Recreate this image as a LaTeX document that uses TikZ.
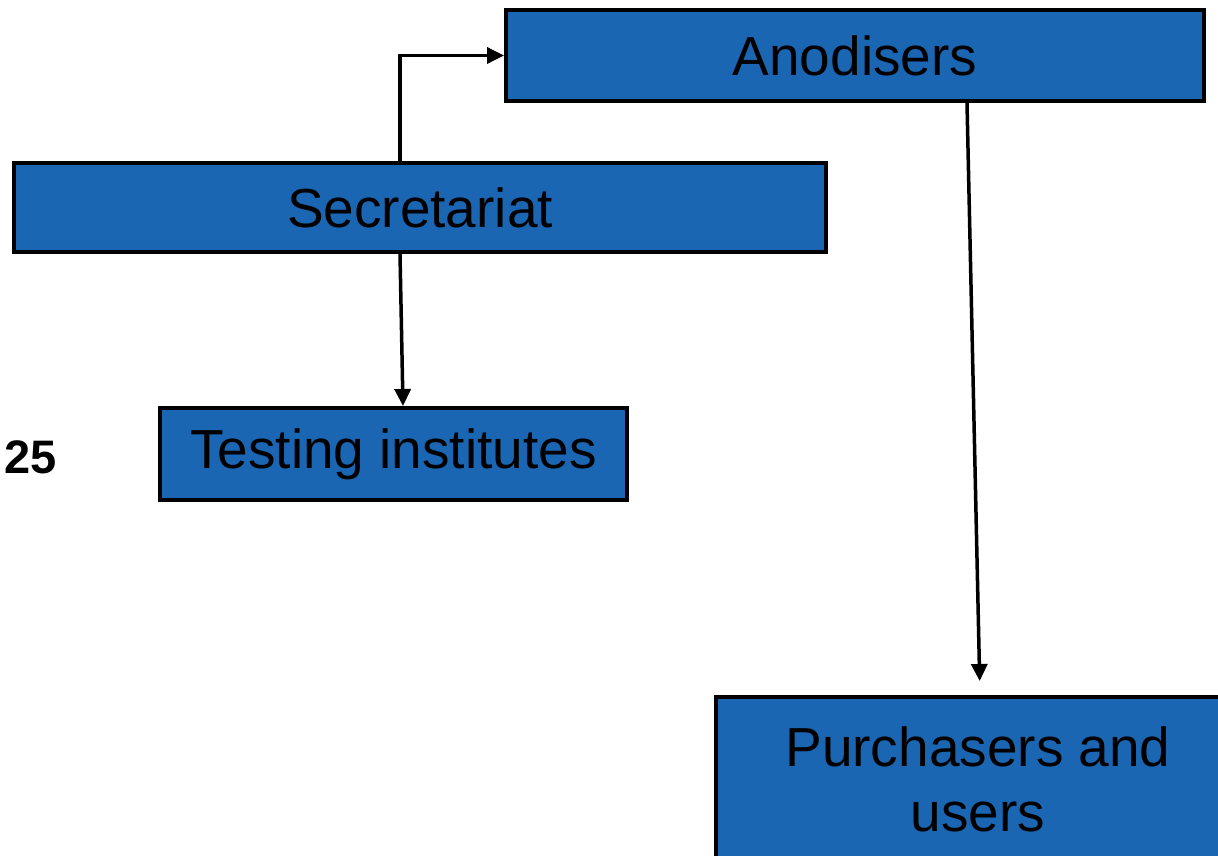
\documentclass[tikz,border=0pt]{standalone}
\usepackage{fontspec}
\setmainfont{Liberation Sans}
\usetikzlibrary{arrows.meta,calc}
\definecolor{boxblue}{RGB}{27,102,178}
\tikzset{
  box/.style={draw=black, line width=4pt, fill=boxblue, inner sep=0pt,
    font=\fontsize{55}{65}\selectfont, align=center},
  arr/.style={draw=black, line width=3.5pt, -{Triangle[length=17pt,width=16pt]}}
}
\begin{document}
\begin{tikzpicture}[x=1pt,y=-1pt]
\useasboundingbox (0,0) rectangle (1218,855);
\clip (0,0) rectangle (1218,855);
\node[box, minimum width=698pt, minimum height=91pt] (anod) at (855,55.5) {Anodisers};
\node[box, minimum width=812pt, minimum height=89pt] (sec) at (420,207.5) {Secretariat};
\node[box, minimum width=467pt, minimum height=92pt] (test) at (393.5,454) {Testing institutes};
\node[box, minimum width=524pt, minimum height=165pt] (purch) at (978,779.5) {Purchasers and\\users};
\node[font=\fontsize{47}{55}\selectfont\bfseries] (num) at (31,457) {25};
\coordinate (s1) at (400,0);
\coordinate (s2) at (403,0);
\coordinate (a1) at (967,0);
\coordinate (a2) at (980,0);
\draw[arr] (sec.north -| s1) |- (anod.west);
\draw[arr] (sec.south -| s1) -- (test.north -| s2);
\draw[arr, shorten >=14pt] (anod.south -| a1) -- (purch.north -| a2);
\end{tikzpicture}
\end{document}
